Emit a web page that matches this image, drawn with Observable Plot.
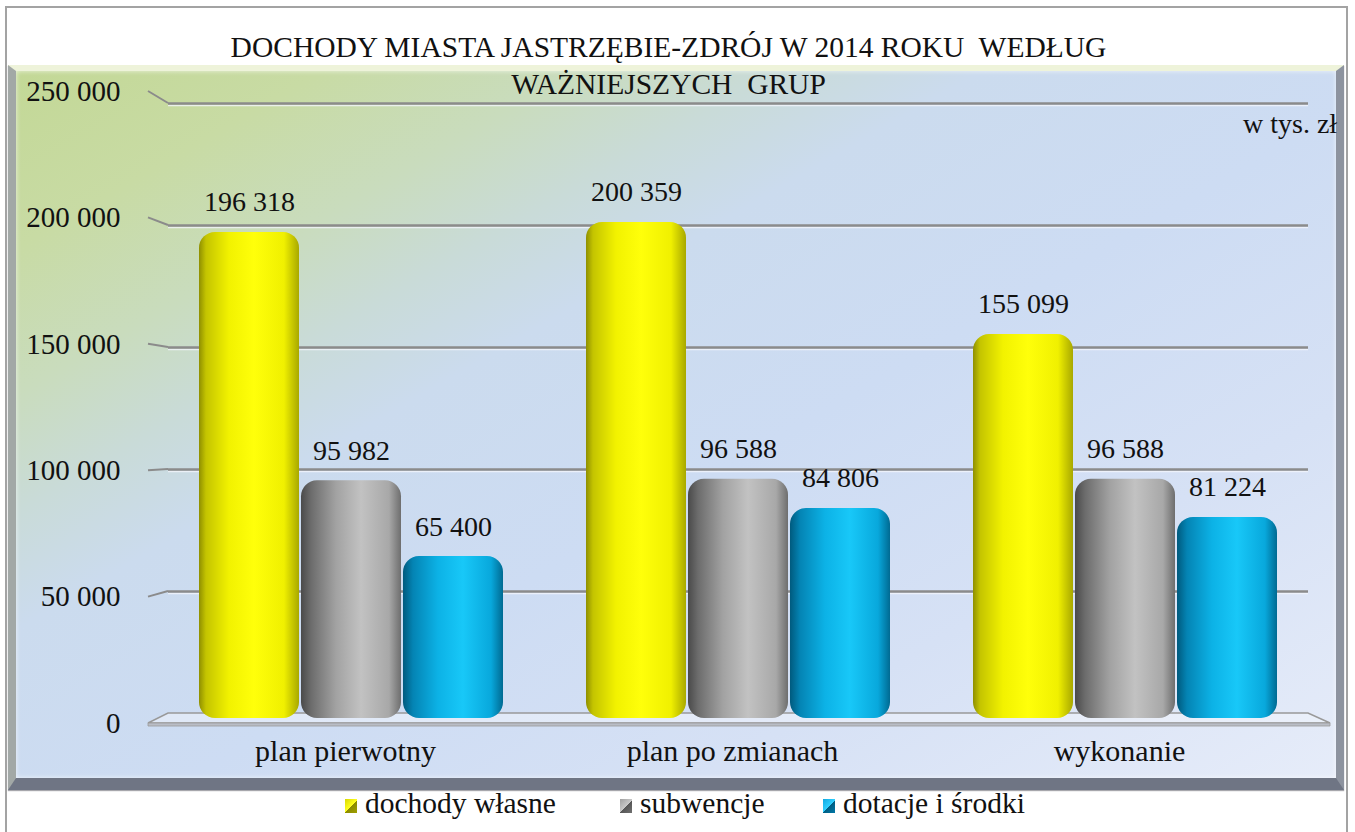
<!DOCTYPE html>
<html>
<head>
<meta charset="utf-8">
<script src="https://cdn.jsdelivr.net/npm/d3@7"></script>
<script src="https://cdn.jsdelivr.net/npm/@observablehq/plot@0.6"></script>
<style>
  html, body { margin: 0; padding: 0; background: #fff; }
  #wrap { position: relative; width: 1355px; height: 832px; overflow: hidden; font-family: "Liberation Serif", "Times New Roman", serif; color: #111; }
  #frame { position: absolute; left: 5px; top: 6px; width: 1339px; height: 840px; border: 2px solid #a3a3a3; }
  #panel { position: absolute; left: 8px; top: 65px; width: 1320px; height: 707px;
    border-style: solid; border-width: 6px 8px 12px 8px;
    border-color: #eef3da #8d939f #6f7584 #a2a8a6;
    background: linear-gradient(150deg, #c3d896 0%, #c8dba4 12%, #c9dcbd 22%, #c9dbd8 30%, #cbdbee 38%, #cddcf3 55%, #d6e1f5 75%, #e6ecf9 100%);
    box-shadow: inset 0 0 5px rgba(255,255,255,0.7), 0 1px 1px rgba(80,80,90,0.5); }
  .layer { position: absolute; left: 0; top: 0; }
  .title { position: absolute; left: 0; width: 1337px; text-align: center; font-size: 29.5px; line-height: 1; white-space: pre; }
  #unit { position: absolute; left: 1243px; top: 110px; font-size: 28px; line-height: 1; white-space: nowrap; }
  #legend { position: absolute; left: 0; top: 0; width: 1355px; height: 832px; font-size: 29.5px; line-height: 1; }
  #legend .item { position: absolute; top: 789px; display: flex; align-items: center; white-space: nowrap; }
  #legend .sw { display: inline-block; width: 12px; height: 14px; margin-right: 8px; margin-top: 4px; }
</style>
</head>
<body>
<svg width="0" height="0" style="position:absolute">
  <defs>
    <linearGradient id="gYellow" x1="0" y1="0" x2="1" y2="0">
      <stop offset="0" stop-color="#8f8f00"/>
      <stop offset="0.07" stop-color="#c4c400"/>
      <stop offset="0.3" stop-color="#f2f200"/>
      <stop offset="0.55" stop-color="#ffff0a"/>
      <stop offset="0.85" stop-color="#f0f000"/>
      <stop offset="1" stop-color="#a8a800"/>
    </linearGradient>
    <linearGradient id="gGray" x1="0" y1="0" x2="1" y2="0">
      <stop offset="0" stop-color="#4a4a4a"/>
      <stop offset="0.1" stop-color="#6c6c6c"/>
      <stop offset="0.35" stop-color="#a2a2a2"/>
      <stop offset="0.6" stop-color="#c2c2c2"/>
      <stop offset="0.88" stop-color="#a8a8a8"/>
      <stop offset="1" stop-color="#6e6e6e"/>
    </linearGradient>
    <linearGradient id="gBlue" x1="0" y1="0" x2="1" y2="0">
      <stop offset="0" stop-color="#005a7e"/>
      <stop offset="0.1" stop-color="#0484b4"/>
      <stop offset="0.35" stop-color="#0cb2e6"/>
      <stop offset="0.6" stop-color="#18c8f8"/>
      <stop offset="0.88" stop-color="#08a8dc"/>
      <stop offset="1" stop-color="#006a92"/>
    </linearGradient>
  </defs>
</svg>
<div id="wrap">
  <div id="frame"></div>
  <div id="panel"></div>
  <div id="layers"></div>
  <div class="title" id="t1" style="top:33px"></div>
  <div class="title" id="t2" style="top:70px"></div>
  <div id="unit"></div>
  <div id="legend"></div>
</div>
<script>
// ---- data ----
const titleLines = ["DOCHODY MIASTA JASTRZĘBIE-ZDRÓJ W 2014 ROKU  WEDŁUG", "WAŻNIEJSZYCH  GRUP"];
const unitLabel = "w tys. zł";
const categories = ["plan pierwotny", "plan po zmianach", "wykonanie"];
const series = ["dochody własne", "subwencje", "dotacje i środki"];
const dochodyWlasne = [196318, 200359, 155099];
const subwencje = [95982, 96588, 96588];
const dotacjeISrodki = [65400, 84806, 81224];
const yTicks = [0, 50000, 100000, 150000, 200000, 250000];
const seriesFills = ["url(#gYellow)", "url(#gGray)", "url(#gBlue)"];
const legendSwatches = [
  "linear-gradient(135deg, #d8d800 0%, #ffff20 50%, #8a8a00 51%, #a0a000 100%)",
  "linear-gradient(135deg, #a0a0a0 0%, #c8c8c8 50%, #555 51%, #707070 100%)",
  "linear-gradient(135deg, #10a8e0 0%, #30d0ff 50%, #005c80 51%, #0078a8 100%)"
];
const legendLeft = [345, 620, 823];

const seriesValues = [dochodyWlasne, subwencje, dotacjeISrodki];
const rows = categories.flatMap((cat, i) => series.map((s, j) => ({cat, series: s, value: seriesValues[j][i]})));
const fmt = d3.formatLocale({decimal: ",", thousands: "\u00a0", grouping: [3], currency: ["", ""]}).format(",d");

const W = 1355, H = 832;
const FONT = "'Liberation Serif', 'Times New Roman', serif";

// ---- back plane: gridlines ----
const back = Plot.plot({
  width: W, height: H,
  marginLeft: 168, marginRight: 47, marginTop: 103, marginBottom: 119,
  style: {background: "transparent", overflow: "visible"},
  y: {axis: null, domain: [0, 250000]},
  marks: [
    Plot.ruleY(yTicks.filter(v => v > 0), {stroke: "#f2f5fb", strokeWidth: 1.5, dy: 2, strokeOpacity: 0.8}),
    Plot.ruleY(yTicks.filter(v => v > 0), {stroke: "#8b8b8b", strokeWidth: 2.5})
  ]
});
const bs = back.scale("y");
const backY = bs.apply ? (v => bs.apply(v)) : d3.scaleLinear(bs.domain, bs.range);

// ---- front plane: floor, slanted ticks, y labels ----
const floorMark = (index, scales, values, dims) => {
  const {marginLeft: ml, marginRight: mr, width: w} = dims;
  const f0 = scales.y(0), b0 = backY(0);
  const g = d3.create("svg:g");
  g.append("path")
    .attr("d", `M${ml - 20},${f0}L${ml},${b0}L${w - mr},${b0}L${w - mr + 22},${f0}Z`)
    .attr("fill", "rgba(240,244,252,0.55)").attr("stroke", "#999").attr("stroke-width", 1.5);
  g.append("path")
    .attr("d", `M${ml - 20},${f0}L${w - mr + 22},${f0}L${w - mr + 22},${f0 + 3}L${ml - 20},${f0 + 3}Z`)
    .attr("fill", "#b9bdc6").attr("stroke", "#9a9a9a").attr("stroke-width", 0.8);
  return g.node();
};
const tickMark = (index, scales, values, dims) => {
  const ml = dims.marginLeft;
  const g = d3.create("svg:g").attr("stroke", "#8b8b8b").attr("stroke-width", 2).attr("fill", "none");
  yTicks.filter(v => v > 0).forEach(v => {
    g.append("path").attr("d", `M${ml - 20},${scales.y(v)}L${ml},${backY(v)}`);
  });
  return g.node();
};
const front = Plot.plot({
  width: W, height: H,
  marginLeft: 168, marginRight: 47, marginTop: 91, marginBottom: 109,
  style: {background: "transparent", overflow: "visible", fontFamily: FONT, fontSize: "29px"},
  y: {axis: null, domain: [0, 250000]},
  marks: [
    floorMark,
    tickMark,
    Plot.text(yTicks, {y: d => d, text: d => fmt(d), frameAnchor: "left", textAnchor: "end", dx: -48, fontSize: 29, fill: "#111"})
  ]
});

// ---- bars ----
const bars = Plot.plot({
  width: W, height: H,
  marginLeft: 197, marginRight: 75, marginTop: 99, marginBottom: 114,
  style: {background: "transparent", overflow: "visible", fontFamily: FONT, fontSize: "28px"},
  facet: {data: rows, x: "cat"},
  fx: {domain: categories, paddingInner: 0.204, paddingOuter: 0, axis: null, label: null},
  x: {domain: series, padding: 0, axis: null},
  y: {axis: null, domain: [0, 250000]},
  marks: [
    ...series.map((s, j) => Plot.barY(rows, {filter: d => d.series === s, x: "series", y: "value", fill: seriesFills[j], rx: 16, insetLeft: 1, insetRight: 1})),
    Plot.text(rows, {x: "series", y: "value", text: d => fmt(d.value), dy: -30, fontSize: 28, fill: "#111"}),
    Plot.text(rows, {filter: d => d.series === series[1], x: "series", text: "cat", frameAnchor: "bottom", dy: 42, dx: -6, fontSize: 30, fill: "#111"})
  ]
});

const layers = document.getElementById("layers");
[back, front, bars].forEach(p => { p.classList.add("layer"); layers.appendChild(p); });

document.getElementById("t1").textContent = titleLines[0];
document.getElementById("t2").textContent = titleLines[1];
document.getElementById("unit").textContent = unitLabel;

const legend = document.getElementById("legend");
series.forEach((s, j) => {
  const item = document.createElement("span");
  item.className = "item";
  item.style.left = legendLeft[j] + "px";
  const sw = document.createElement("i");
  sw.className = "sw";
  sw.style.background = legendSwatches[j];
  item.appendChild(sw);
  item.appendChild(document.createTextNode(s));
  legend.appendChild(item);
});
</script>
</body>
</html>
